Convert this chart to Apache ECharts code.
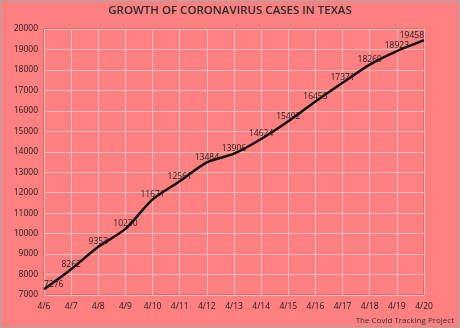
<!DOCTYPE html>
<html>
<head>
<meta charset="utf-8">
<script src="https://cdn.jsdelivr.net/npm/echarts@6/dist/echarts.min.js"></script>
<style>
  html, body { margin: 0; padding: 0; background: #ff8080; }
  #chart { width: 460px; height: 328px; box-sizing: border-box; border: 1px solid #a9a9a9; }
</style>
</head>
<body>
<div id="chart"></div>
<script>
// Daily cumulative COVID-19 cases in Texas
const dates = ['4/6', '4/7', '4/8', '4/9', '4/10', '4/11', '4/12', '4/13', '4/14', '4/15', '4/16', '4/17', '4/18', '4/19', '4/20'];
const cases = [7276, 8262, 9353, 10230, 11671, 12561, 13484, 13906, 14624, 15492, 16455, 17371, 18260, 18923, 19458];
const titleText = 'GROWTH OF CORONAVIRUS CASES IN TEXAS';
const sourceText = 'The Covid Tracking Project';

const FONT = '"Open Sans", "Noto Sans", sans-serif';
const chart = echarts.init(document.getElementById('chart'));

// keep the first and last labels inside the plot frame
const seriesData = cases.map((v, i) => {
  const item = { value: v };
  if (i === 0) item.label = { align: 'left', offset: [2, 0] };
  if (i === cases.length - 1) item.label = { align: 'right', offset: [-1, 0] };
  return item;
});

chart.setOption({
  backgroundColor: '#ff8080',
  animation: false,
  title: [{
    text: titleText,
    left: 'center',
    top: 4,
    padding: 0,
    textStyle: { fontFamily: FONT, fontSize: 11.5, fontWeight: 600, color: '#2a2a2a' }
  }, {
    text: sourceText,
    right: 5,
    top: 316,
    padding: 0,
    textStyle: { fontFamily: FONT, fontSize: 8, fontWeight: 'normal', color: '#333' }
  }],
  grid: { left: 43, right: 35, top: 28, bottom: 32, show: true, borderColor: '#b35a5a', borderWidth: 1, backgroundColor: 'transparent' },
  xAxis: {
    type: 'category',
    data: dates,
    boundaryGap: false,
    axisLine: { show: false },
    axisTick: { show: false },
    axisLabel: { fontFamily: FONT, fontSize: 8.5, color: '#1a1a1a', margin: 7, interval: 0 },
    splitLine: { show: true, lineStyle: { color: '#f4baba', width: 1 } }
  },
  yAxis: {
    type: 'value',
    min: 7000,
    max: 20000,
    interval: 1000,
    axisLine: { show: false },
    axisTick: { show: false },
    axisLabel: { fontFamily: FONT, fontSize: 8.5, color: '#1a1a1a', margin: 6, formatter: (v) => String(v) },
    splitLine: { show: true, lineStyle: { color: '#f4baba', width: 1 } }
  },
  series: [{
    type: 'line',
    data: seriesData,
    smooth: 0.25,
    symbol: 'circle',
    symbolSize: 1,
    showSymbol: true,
    itemStyle: { color: 'rgba(0,0,0,0)', borderWidth: 0 },
    lineStyle: { color: '#111', width: 2.5 },
    labelLayout: { hideOverlap: false },
    label: {
      show: true,
      position: 'top',
      distance: 0,
      fontFamily: FONT,
      fontSize: 8.5,
      color: '#222'
    }
  }]
});
</script>
</body>
</html>
